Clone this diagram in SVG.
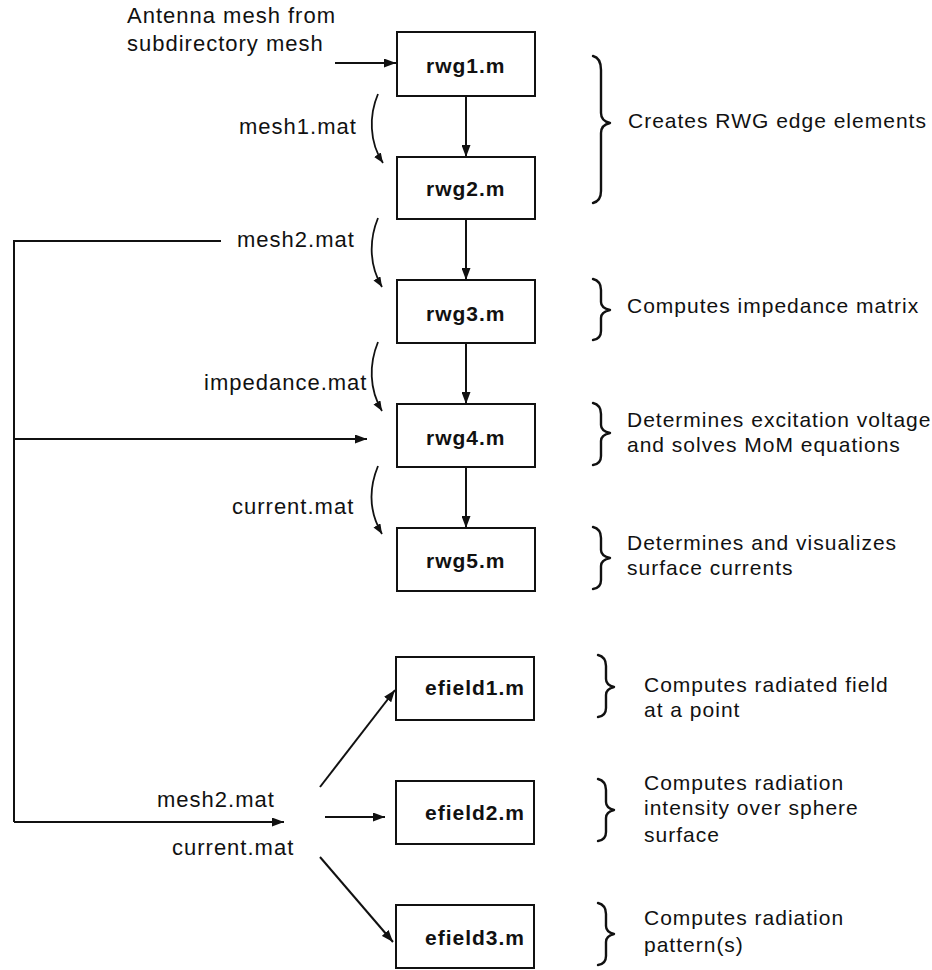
<svg xmlns="http://www.w3.org/2000/svg" width="932" height="970" viewBox="0 0 932 970">
<defs>
<marker id="ah" markerUnits="userSpaceOnUse" markerWidth="13" markerHeight="9" refX="12" refY="4.5" orient="auto">
<path d="M0,0 L12,4.5 L0,9 z" fill="#111"/>
</marker>
<marker id="ahs" markerUnits="userSpaceOnUse" markerWidth="11" markerHeight="9" refX="10" refY="4" orient="auto">
<path d="M0,0 L10,4 L0,8 z" fill="#111"/>
</marker>
</defs>
<style>
.box{fill:#fff;stroke:#111;stroke-width:2}
.lbl{font-family:"Liberation Sans",Arial,sans-serif;font-weight:bold;font-size:21px;letter-spacing:1px;fill:#111}
.txt{font-family:"Liberation Sans",Arial,sans-serif;font-size:21px;letter-spacing:1px;fill:#111}
.ltxt{font-family:"Liberation Sans",Arial,sans-serif;font-size:22px;letter-spacing:1px;fill:#111}
.ln{fill:none;stroke:#111;stroke-width:2}
.arr{fill:none;stroke:#111;stroke-width:2;marker-end:url(#ah)}
.carr{fill:none;stroke:#111;stroke-width:1.8;marker-end:url(#ahs)}
.brace{fill:none;stroke:#111;stroke-width:2.4;stroke-linecap:round;stroke-linejoin:round}
</style>
<rect width="932" height="970" fill="#fff"/>

<g id="input-label">
<text class="ltxt" x="127" y="23">Antenna mesh from</text>
<text class="ltxt" x="127" y="51">subdirectory mesh</text>
</g>

<g id="connectors">
<line class="arr" x1="335" y1="63" x2="396" y2="63"/>
<line class="arr" x1="466" y1="96" x2="466" y2="157"/>
<line class="arr" x1="466" y1="219" x2="466" y2="280"/>
<line class="arr" x1="466" y1="343" x2="466" y2="404"/>
<line class="arr" x1="466" y1="467" x2="466" y2="528"/>
<path class="carr" d="M378,94 C369,115 369,142 383,163"/>
<path class="carr" d="M378,218 C369,240 369,265 382,287"/>
<path class="carr" d="M378,342 C369,364 369,389 382,411"/>
<path class="carr" d="M378,466 C369,488 369,512 382,534"/>
<path class="ln" d="M221,241 L14,241 L14,822"/>
<line class="arr" x1="14" y1="439" x2="367" y2="439"/>
<line class="arr" x1="14" y1="822" x2="284" y2="822"/>
<line class="arr" x1="320" y1="787" x2="395" y2="690"/>
<line class="arr" x1="325" y1="817" x2="385" y2="817"/>
<line class="arr" x1="320" y1="857" x2="393" y2="942"/>
</g>

<g id="edge-labels">
<text class="ltxt" x="239" y="134">mesh1.mat</text>
<text class="ltxt" x="237" y="247">mesh2.mat</text>
<text class="ltxt" x="204" y="390">impedance.mat</text>
<text class="ltxt" x="232" y="514">current.mat</text>
<text class="ltxt" x="157" y="807">mesh2.mat</text>
<text class="ltxt" x="172" y="855">current.mat</text>
</g>

<g id="rwg1"><rect class="box" x="397" y="32" width="138" height="64"/><text class="lbl" x="426" y="73">rwg1.m</text></g>
<g id="rwg2"><rect class="box" x="397" y="157" width="138" height="62"/><text class="lbl" x="426" y="196">rwg2.m</text></g>
<g id="rwg3"><rect class="box" x="397" y="280" width="138" height="63"/><text class="lbl" x="426" y="321">rwg3.m</text></g>
<g id="rwg4"><rect class="box" x="397" y="404" width="138" height="63"/><text class="lbl" x="426" y="445">rwg4.m</text></g>
<g id="rwg5"><rect class="box" x="397" y="528" width="138" height="63"/><text class="lbl" x="426" y="568">rwg5.m</text></g>
<g id="efield1"><rect class="box" x="396" y="657" width="138" height="63"/><text class="lbl" x="425" y="695">efield1.m</text></g>
<g id="efield2"><rect class="box" x="396" y="781" width="138" height="63"/><text class="lbl" x="425" y="820">efield2.m</text></g>
<g id="efield3"><rect class="box" x="396" y="905" width="138" height="63"/><text class="lbl" x="425" y="945">efield3.m</text></g>

<g id="note-rwg12">
<path class="brace" d="M593,56 Q601,58 601,70 L601,113 Q601,121 610,123 Q601,125 601,133 L601,191 Q601,201 593,203"/>
<text class="txt" x="628" y="128">Creates RWG edge elements</text>
</g>
<g id="note-rwg3">
<path class="brace" d="M593,279 Q601,281 601,290 L601,302 Q601,308 610,310 Q601,312 601,318 L601,331 Q601,339 593,340"/>
<text class="txt" x="627" y="313">Computes impedance matrix</text>
</g>
<g id="note-rwg4">
<path class="brace" d="M593,403 Q601,405 601,414 L601,425 Q601,431 610,433 Q601,435 601,441 L601,456 Q601,464 593,465"/>
<text class="txt" x="627" y="427">Determines excitation voltage</text>
<text class="txt" x="627" y="452">and solves MoM equations</text>
</g>
<g id="note-rwg5">
<path class="brace" d="M593,527 Q601,529 601,538 L601,550 Q601,556 610,558 Q601,560 601,566 L601,580 Q601,588 593,589"/>
<text class="txt" x="627" y="550">Determines and visualizes</text>
<text class="txt" x="627" y="575">surface currents</text>
</g>
<g id="note-efield1">
<path class="brace" d="M598,655 Q606,657 606,666 L606,679 Q606,685 614,687 Q606,689 606,695 L606,708 Q606,716 598,717"/>
<text class="txt" x="644" y="692">Computes radiated field</text>
<text class="txt" x="644" y="717">at a point</text>
</g>
<g id="note-efield2">
<path class="brace" d="M598,779 Q606,781 606,790 L606,802 Q606,808 614,810 Q606,812 606,818 L606,832 Q606,840 598,841"/>
<text class="txt" x="644" y="790">Computes radiation</text>
<text class="txt" x="644" y="815">intensity over sphere</text>
<text class="txt" x="644" y="842">surface</text>
</g>
<g id="note-efield3">
<path class="brace" d="M598,903 Q606,905 606,914 L606,926 Q606,932 614,934 Q606,936 606,942 L606,956 Q606,964 598,965"/>
<text class="txt" x="644" y="925">Computes radiation</text>
<text class="txt" x="644" y="952">pattern(s)</text>
</g>
</svg>
